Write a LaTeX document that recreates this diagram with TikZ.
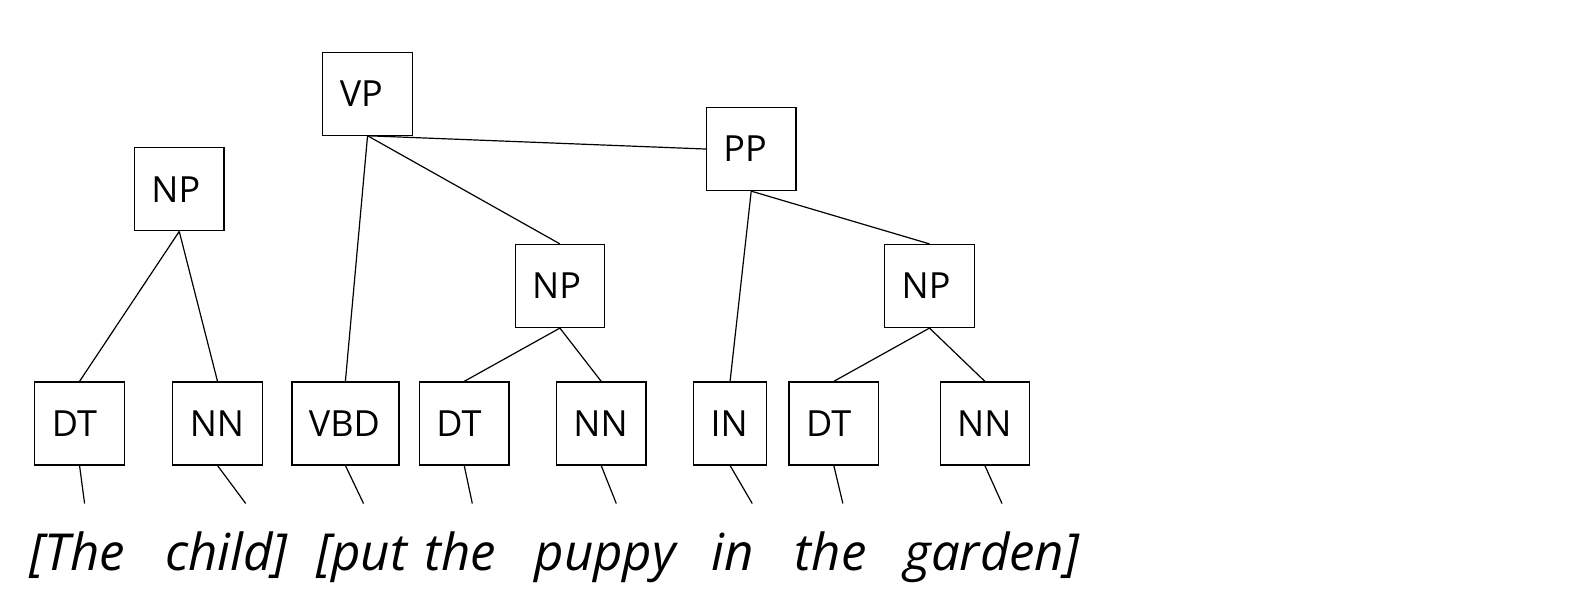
\documentclass[tikz,border=0pt]{standalone}
\usepackage{fontspec}
\setmainfont{Open Sans}

\begin{document}
\begin{tikzpicture}[x=1.007pt,y=-1.007pt,
  cat/.style={draw,line width=1.2pt,inner xsep=17pt,inner ysep=0pt,
    text width=#1-34pt,align=left,minimum height=83pt,
    font=\fontsize{36}{36}\selectfont},
  cat/.default=89.5pt,
  word/.style={anchor=base,inner sep=0pt,font=\fontsize{51}{51}\selectfont\itshape},
  branch/.style={line width=1.2pt}]
\useasboundingbox (0pt,0pt) rectangle (1578pt,-602pt);

% phrases
\node[cat] (VP) at (365,93) {VP};
\node[cat] (PP) at (746,148) {PP};
\node[cat] (NP1) at (178,188) {NP};
\node[cat] (NP2) at (556,284) {NP};
\node[cat] (NP3) at (923,284) {NP};

% tags
\foreach \name/\x/\w/\tag in {DT1/79/89.5/DT, NN1/216/89.5/NN, VBD/343/107/VBD,
    DT2/461/89.5/DT, NN2/597/89.5/NN, IN/725/73/IN, DT3/828/89.5/DT, NN3/978/89.5/NN}
  \node[cat=\w pt] (\name) at (\x,420.5) {\tag};

% words
\foreach \name/\x/\txt in {w1/77/[The, w2/225/child], w3/359/[put, w4/457/the,
    w5/601/puppy, w6/728/in, w7/825/the, w8/985/garden]}
  \node[word] (\name) at (\x,567) {\txt};

% leaf ends
\foreach \name/\x/\y in {DT1/84/500, NN1/244/500, VBD/361/500, DT2/469/500,
    NN2/612/500, IN/747/500, DT3/837/500, NN3/995/500}
  \draw[branch] (\name.south) -- (\x,\y) coordinate (\name-leaf);

% branches
\draw[branch] (NP1.south) -- (DT1.north);
\draw[branch] (NP1.south) -- (NN1.north);
\draw[branch] (VP.south) -- (VBD.north);
\draw[branch] (VP.south) -- (NP2.north);
\draw[branch] (VP.south) -- (PP.west);
\draw[branch] (PP.south) -- (IN.north);
\draw[branch] (PP.south) -- (NP3.north);
\draw[branch] (NP2.south) -- (DT2.north);
\draw[branch] (NP2.south) -- (NN2.north);
\draw[branch] (NP3.south) -- (DT3.north);
\draw[branch] (NP3.south) -- (NN3.north);

\end{tikzpicture}
\end{document}
